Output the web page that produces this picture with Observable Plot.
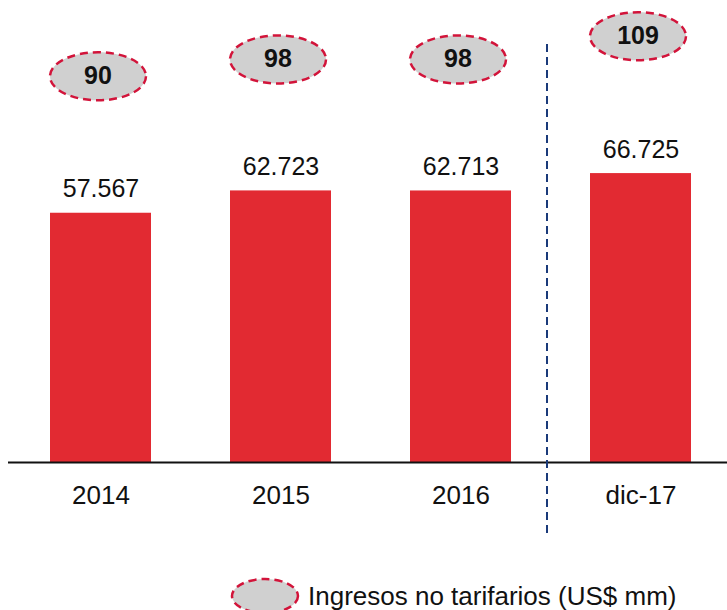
<!DOCTYPE html>
<html>
<head>
<meta charset="utf-8">
<script src="https://cdn.jsdelivr.net/npm/d3@7"></script>
<script src="https://cdn.jsdelivr.net/npm/@observablehq/plot@0.6"></script>
<style>
  html, body { margin: 0; padding: 0; background: #fff; }
  body { width: 727px; height: 610px; overflow: hidden; font-family: "Liberation Sans", Arial, sans-serif; }
  #legend { position: relative; height: 45px; }
  #legend svg { position: absolute; left: 230px; top: 12px; }
  #legend span { position: absolute; left: 308px; top: 16px; font-size: 26px; line-height: 30px; color: #111; white-space: nowrap; }
</style>
</head>
<body>
<div id="chart"></div>
<div id="legend">
  <svg width="72" height="38"><ellipse cx="35" cy="19" rx="33" ry="17" fill="#d0d0d0" stroke="#d2143a" stroke-width="2.5" stroke-dasharray="8,5"/></svg>
  <span>Ingresos no tarifarios (US$ mm)</span>
</div>
<script>
// Data
const categories = ["2014", "2015", "2016", "dic-17"];
const barValues = [57567, 62723, 62713, 66725];
const pillValues = [90, 98, 98, 109];
const legendLabel = "Ingresos no tarifarios (US$ mm)";

const rows = categories.map((c, i) => ({cat: c, bar: barValues[i], pill: pillValues[i]}));

const esFormat = d3.formatLocale({decimal: ",", thousands: ".", grouping: [3], currency: ["$", ""]}).format(",d");

// secondary axis for the pills (US$ mm), mapped onto the primary y units
const pillAxis = d3.scaleLinear().domain([0, 200]).range([45400, 142730]);

// custom ellipse symbol
function ellipseSymbol(rx, ry) {
  const k = 0.5522847498;
  return {
    draw(ctx) {
      ctx.moveTo(rx, 0);
      ctx.bezierCurveTo(rx, ry * k, rx * k, ry, 0, ry);
      ctx.bezierCurveTo(-rx * k, ry, -rx, ry * k, -rx, 0);
      ctx.bezierCurveTo(-rx, -ry * k, -rx * k, -ry, 0, -ry);
      ctx.bezierCurveTo(rx * k, -ry, rx, -ry * k, rx, 0);
      ctx.closePath();
    }
  };
}

const chart = Plot.plot({
  width: 727,
  height: 565,
  marginLeft: 8,
  marginRight: 0,
  marginTop: 0,
  marginBottom: 103,
  style: {fontFamily: "'Liberation Sans', Arial, sans-serif", color: "#111", background: "#fff"},
  x: {type: "band", domain: categories, range: [8, 733.6], paddingInner: 0.441, paddingOuter: 0.227, label: null},
  y: {domain: [0, 106700], axis: null},
  marks: [
    Plot.barY(rows, {x: "cat", y: "bar", fill: "#e22a32"}),
    Plot.ruleY([0], {stroke: "#111", strokeWidth: 1.8}),
    Plot.ruleX(["dic-17"], {x: d => d, y1: -16400, y2: 97000, dx: -94, stroke: "#1a3a7a", strokeWidth: 2, strokeDasharray: "8,5"}),
    Plot.text(rows, {x: "cat", y: "bar", text: d => esFormat(d.bar), dy: -24, fontSize: 25, fill: "#111", lineAnchor: "middle"}),
    Plot.dot(rows, {x: "cat", y: d => pillAxis(d.pill), dx: -3, symbol: ellipseSymbol(48, 24), r: 10, fill: "#d0d0d0", stroke: "#d2143a", strokeWidth: 2.5, strokeDasharray: "8,5"}),
    Plot.text(rows, {x: "cat", y: d => pillAxis(d.pill), dx: -3, text: d => String(d.pill), fontSize: 25, fontWeight: "bold", fill: "#111", lineAnchor: "middle"}),
    Plot.axisX({tickSize: 0, tickPadding: 23, fontSize: 26, label: null})
  ]
});
document.getElementById("chart").appendChild(chart);
</script>
</body>
</html>
